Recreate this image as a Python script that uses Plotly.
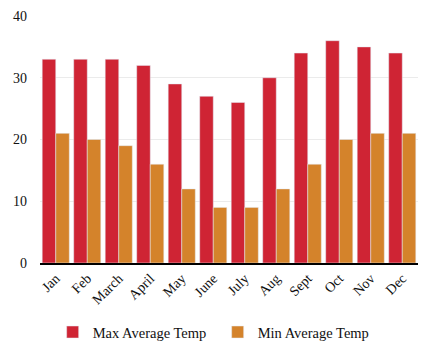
import plotly.graph_objects as go

months = ["Jan", "Feb", "March", "April", "May", "June", "July", "Aug", "Sept", "Oct", "Nov", "Dec"]
max_temp = [33, 33, 33, 32, 29, 27, 26, 30, 34, 36, 35, 34]
min_temp = [21, 20, 19, 16, 12, 9, 9, 12, 16, 20, 21, 21]

fig = go.Figure()
fig.add_trace(go.Bar(x=months, y=max_temp, name="Max Average Temp", marker_color="#cf2434"))
fig.add_trace(go.Bar(x=months, y=min_temp, name="Min Average Temp", marker_color="#d4832b"))

fig.update_layout(
    width=429, height=350,
    margin=dict(l=40, r=11, t=16, b=87, autoexpand=False),
    barmode="group", bargap=0.14, bargroupgap=0,
    plot_bgcolor="white", paper_bgcolor="white",
    font=dict(family="Liberation Serif", size=14, color="#111"),
    showlegend=True,
    legend=dict(orientation="h", x=0.47, xanchor="center", y=-0.215, yanchor="top",
                font=dict(size=14.5), entrywidth=120, itemwidth=30),
    xaxis=dict(tickangle=-45, showgrid=False, showline=True, linecolor="black", linewidth=1.5,
               ticks="", tickfont=dict(size=14)),
    yaxis=dict(range=[0, 40], dtick=10, showgrid=True, gridcolor="#ebebeb", zeroline=False,
               ticks="", tickfont=dict(size=14), ticklabelstandoff=12),
)
fig.write_html("out.html")
